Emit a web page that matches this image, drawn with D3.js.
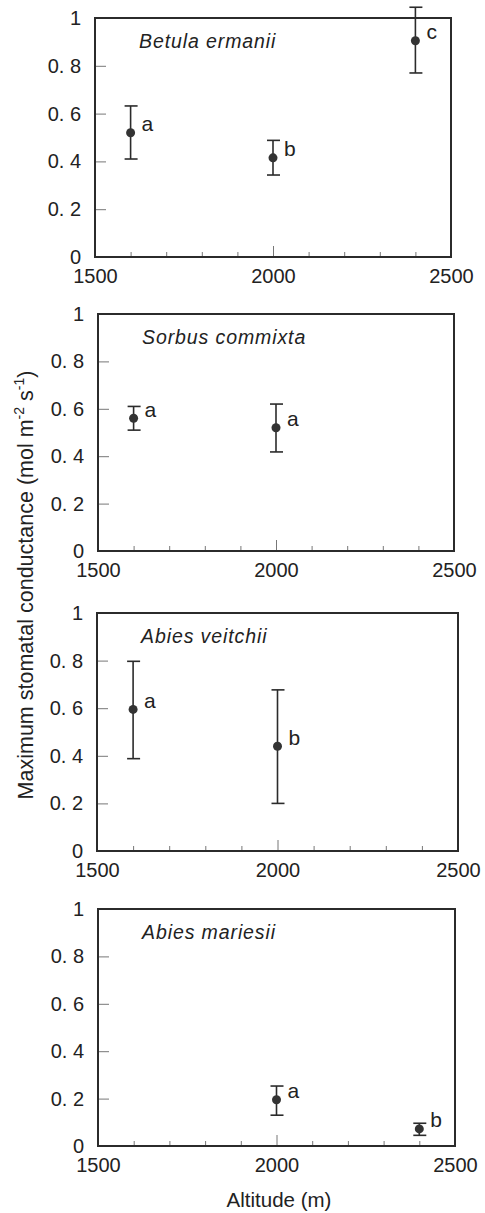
<!DOCTYPE html>
<html>
<head>
<meta charset="utf-8">
<script src="https://cdn.jsdelivr.net/npm/d3@7"></script>
<style>
  body { margin: 0; background: #fff; }
  text { font-family: Arial, "Liberation Sans", sans-serif; fill: #222; }
  .axis path { display: none; }
  .axis line { stroke: #777; stroke-width: 1; }
  .axis text { font-size: 20px; fill: #222; }
</style>
</head>
<body>
<svg id="chart" width="485" height="1213"></svg>
<script>
// values
var species = ["Betula ermanii", "Sorbus commixta", "Abies veitchii", "Abies mariesii"];
var altitudes = [[1600, 2000, 2400], [1600, 2000], [1600, 2000], [2000, 2400]];
var means = [[0.52, 0.415, 0.905], [0.56, 0.52], [0.595, 0.44], [0.195, 0.072]];
var upper = [[0.632, 0.488, 1.045], [0.61, 0.62], [0.797, 0.677], [0.253, 0.096]];
var lower = [[0.41, 0.343, 0.77], [0.51, 0.418], [0.388, 0.2], [0.13, 0.045]];
var letters = [["a", "b", "c"], ["a", "a"], ["a", "b"], ["a", "b"]];
var yTicks = [0, 0.2, 0.4, 0.6, 0.8, 1];
var yTickLabels = ["0", "0. 2", "0. 4", "0. 6", "0. 8", "1"];
var xLabelTicks = [1500, 2000, 2500];
var xMinorTicks = [1600, 1700, 1800, 1900, 2100, 2200, 2300, 2400];

// panel frames (left, right, top, bottom)
var frames = [
  {l: 95, r: 451, t: 18, b: 257},
  {l: 98, r: 454, t: 314, b: 551},
  {l: 97, r: 458, t: 613, b: 851},
  {l: 98, r: 455, t: 909, b: 1146}
];

var svg = d3.select("#chart");
var ink = "#2b2b2b";

species.forEach(function(name, i) {
  var f = frames[i];
  var x = d3.scaleLinear().domain([1500, 2500]).range([f.l, f.r]);
  var y = d3.scaleLinear().domain([0, 1]).range([f.b, f.t]);
  var g = svg.append("g");

  // y axis ticks, pointing inward
  g.append("g")
      .attr("class", "axis")
      .attr("transform", "translate(" + f.l + ",0)")
      .call(d3.axisLeft(y).tickValues(yTicks).tickSizeInner(-11).tickSizeOuter(0)
        .tickPadding(14).tickFormat(function(d, k) { return yTickLabels[k]; }));

  // x minor ticks
  g.append("g")
      .attr("class", "axis")
      .attr("transform", "translate(0," + f.b + ")")
      .call(d3.axisBottom(x).tickValues(xMinorTicks).tickSizeInner(-5).tickSizeOuter(0).tickFormat(""));

  // x labelled ticks
  g.append("g")
      .attr("class", "axis")
      .attr("transform", "translate(0," + f.b + ")")
      .call(d3.axisBottom(x).tickValues(xLabelTicks).tickSizeInner(-11).tickSizeOuter(0)
        .tickPadding(12).tickFormat(d3.format("d")));

  // frame
  g.append("rect")
      .attr("x", f.l).attr("y", f.t)
      .attr("width", f.r - f.l).attr("height", f.b - f.t)
      .attr("fill", "none").attr("stroke", ink).attr("stroke-width", 2);

  g.append("text")
      .attr("x", f.l + 44).attr("y", f.t + 30)
      .attr("font-size", 19.5).attr("font-style", "italic")
      .attr("letter-spacing", 0.9)
      .text(name);

  var pts = altitudes[i].map(function(a, k) {
    return {alt: a, m: means[i][k], hi: upper[i][k], lo: lower[i][k], letter: letters[i][k]};
  });

  var p = g.selectAll(".pt").data(pts).enter().append("g").attr("class", "pt");

  p.append("line")
      .attr("x1", function(d) { return x(d.alt); })
      .attr("x2", function(d) { return x(d.alt); })
      .attr("y1", function(d) { return y(d.hi); })
      .attr("y2", function(d) { return y(d.lo); })
      .attr("stroke", ink).attr("stroke-width", 1.6);

  ["hi", "lo"].forEach(function(key) {
    p.append("line")
        .attr("x1", function(d) { return x(d.alt) - 6; })
        .attr("x2", function(d) { return x(d.alt) + 7; })
        .attr("y1", function(d) { return y(d[key]); })
        .attr("y2", function(d) { return y(d[key]); })
        .attr("stroke", ink).attr("stroke-width", 1.6);
  });

  p.append("circle")
      .attr("cx", function(d) { return x(d.alt); })
      .attr("cy", function(d) { return y(d.m); })
      .attr("r", 4.5)
      .attr("fill", "#333");

  p.append("text")
      .attr("x", function(d) { return x(d.alt) + 11; })
      .attr("y", function(d) { return y(d.m) - 9; })
      .attr("dy", "0.35em")
      .attr("font-size", 21)
      .text(function(d) { return d.letter; });
});

// shared axis titles
var yl = svg.append("text")
    .attr("transform", "translate(33,585) rotate(-90)")
    .attr("text-anchor", "middle")
    .attr("font-size", 21.5);
yl.append("tspan").text("Maximum stomatal conductance (mol m");
yl.append("tspan").attr("font-size", 14).attr("dy", -9).text("-2");
yl.append("tspan").attr("dy", 9).text(" s");
yl.append("tspan").attr("font-size", 14).attr("dy", -9).text("-1");
yl.append("tspan").attr("dy", 9).text(")");

svg.append("text")
    .attr("x", 279).attr("y", 1207)
    .attr("text-anchor", "middle")
    .attr("font-size", 20.5)
    .text("Altitude (m)");
</script>
</body>
</html>
